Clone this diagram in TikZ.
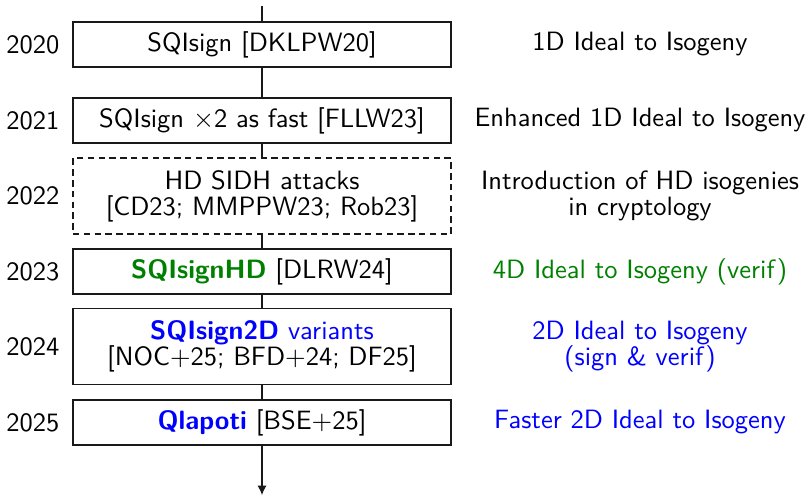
\documentclass[tikz,border=0pt]{standalone}
\usetikzlibrary{arrows.meta}
\definecolor{hdgreen}{RGB}{0,128,0}
\definecolor{hdblue}{RGB}{0,0,255}
\definecolor{rule}{RGB}{25,25,25}
\begin{document}
\begin{tikzpicture}[x=0.37pt,y=-0.37pt,
  every node/.style={font=\fontsize{9.8}{9.6}\selectfont\sffamily},
  tbox/.style={draw=rule, line width=0.4pt, minimum width=378*0.37pt, minimum height=45*0.37pt, inner sep=0pt, align=center},
  tallbox/.style={tbox, minimum height=76*0.37pt},
  year/.style={anchor=east, inner sep=0pt},
  note/.style={align=center, inner sep=0pt},
  link/.style={draw=rule, line width=0.4pt}]
\useasboundingbox (0,0) rectangle (808,496);

% timeline boxes
\node[tbox] (b1) at (262,44.5) {SQIsign [DKLPW20]};
\node[tbox] (b2) at (262,120.5) {SQIsign $\times$2 as fast [FLLW23]};
\node[tallbox, dash pattern=on 2.4pt off 1.6pt] (b3) at (262,196) {HD SIDH attacks\\{}[CD23; MMPPW23; Rob23]};
\node[tbox] (b4) at (262,271.5) {\textcolor{hdgreen}{\bfseries SQIsignHD} [DLRW24]};
\node[tallbox] (b5) at (262,346.5) {\textcolor{hdblue}{{\bfseries SQIsign2D} variants}\\{}[NOC+25; BFD+24; DF25]};
\node[tbox] (b6) at (262,422.5) {\textcolor{hdblue}{\bfseries Qlapoti} [BSE+25]};

% years
\node[year] (y1) at (60,44.5) {2020};
\node[year] (y2) at (60,120.5) {2021};
\node[year] (y3) at (60,196) {2022};
\node[year] (y4) at (60,271.5) {2023};
\node[year] (y5) at (60,346.5) {2024};
\node[year] (y6) at (60,422.5) {2025};

% descriptions
\node[note] (n1) at (640,44.5) {1D Ideal to Isogeny};
\node[note] (n2) at (640,120.5) {Enhanced 1D Ideal to Isogeny};
\node[note] (n3) at (640,196) {Introduction of HD isogenies\\in cryptology};
\node[note, text=hdgreen] (n4) at (640,271.5) {4D Ideal to Isogeny (verif)};
\node[note, text=hdblue] (n5) at (640,346.5) {2D Ideal to Isogeny\\(sign \& verif)};
\node[note, text=hdblue] (n6) at (640,422.5) {Faster 2D Ideal to Isogeny};

% connectors
\coordinate (top) at (262,6);
\coordinate (bottom) at (262,495);
\draw[link] (top) -- (b1.north);
\draw[link] (b1) -- (b2);
\draw[link] (b2) -- (b3);
\draw[link] (b3) -- (b4);
\draw[link] (b4) -- (b5);
\draw[link] (b5) -- (b6);
\draw[link, -{Latex[length=3.5pt,width=3.4pt]}] (b6.south) -- (bottom);
\end{tikzpicture}
\end{document}
